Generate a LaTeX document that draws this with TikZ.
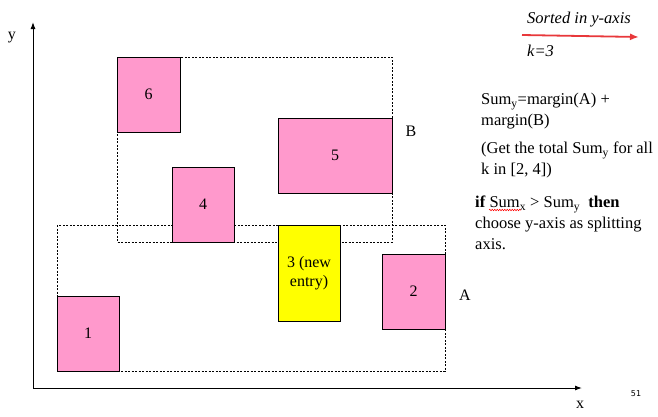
\documentclass[tikz,border=0pt]{standalone}
\usepackage{fontspec}
\setmainfont{Liberation Serif}
\newfontfamily\smallsans{DejaVu Sans}
\usetikzlibrary{arrows.meta,decorations.pathmorphing}
\definecolor{rpink}{HTML}{FF99CC}
\definecolor{ryellow}{HTML}{FFFF00}
\definecolor{rred}{HTML}{E8383B}
\begin{document}
\begin{tikzpicture}[x=1pt,y=-1pt,
  rect/.style={draw=black,line width=0.8pt,fill=rpink},
  newrect/.style={draw=black,line width=0.8pt,fill=ryellow},
  mbr/.style={draw=black,line width=0.6pt,dash pattern=on 2pt off 1.5pt},
  lbl/.style={font=\fontsize{16}{19}\selectfont,inner sep=0pt},
  txt/.style={font=\fontsize{16.5}{21}\selectfont,inner sep=0pt,anchor=north west,align=left},
  axis/.style={line width=1pt,-{Latex[length=7pt,width=5pt]}}]
\useasboundingbox (0,0) rectangle (658,416);
% axes
\coordinate (O) at (33,388);
\coordinate (Ytip) at (33,22);
\coordinate (Xtip) at (582,388);
\draw[axis] (O) -- (Ytip);
\draw[axis] (O) -- (Xtip);
\node[lbl] (ylab) at (12,38) {y};
\node[lbl] (xlab) at (580,405) {x};
\node[inner sep=0pt,font=\smallsans\fontsize{8}{10}\selectfont] (pg) at (636,394) {51};
% dashed MBRs
\draw[mbr] (117,57) rectangle (392,242);
\draw[mbr] (57,225) rectangle (445,371);
\node[lbl] (B) at (411,131) {B};
\node[lbl] (A) at (465,295) {A};
% entries
\node[rect,minimum width=63pt,minimum height=75pt,inner sep=0pt,lbl] (r6) at (148.5,94.5) {6};
\node[rect,minimum width=114pt,minimum height=75pt,inner sep=0pt,lbl] (r5) at (335,155.5) {5};
\node[rect,minimum width=62pt,minimum height=75pt,inner sep=0pt,lbl] (r4) at (203,204.5) {4};
\node[newrect,minimum width=62pt,minimum height=96pt,inner sep=0pt,lbl,align=center] (r3) at (309,273) {3 (new\\entry)};
\node[rect,minimum width=63pt,minimum height=75pt,inner sep=0pt,lbl] (r2) at (413.5,291.5) {2};
\node[rect,minimum width=62pt,minimum height=75pt,inner sep=0pt,lbl] (r1) at (88,333.5) {1};
% sorted arrow
\coordinate (s0) at (522,35);
\coordinate (s1) at (639,37);
\draw[rred,line width=1.8pt,-{Latex[length=9pt,width=7pt]}] (s0) -- (s1);
\node[lbl,font=\itshape\fontsize{16.5}{18}\selectfont,anchor=west] (sorted) at (527,20) {Sorted in y-axis};
\node[lbl,font=\itshape\fontsize{16.5}{18}\selectfont,anchor=west] (k) at (527,51) {k=3};
% explanation text
\node[txt] (t1) at (481,93) {Sum\textsubscript{y}=margin(A) +\\margin(B)};
\node[txt] (t2) at (481,142) {(Get the total Sum\textsubscript{y} for all\\k in [2, 4])};
\node[txt] (t3) at (475,196) {\textbf{if} Sum\textsubscript{x} > Sum\textsubscript{y}\ \ \textbf{then}\\choose y-axis as splitting\\axis.};
\coordinate (w0) at (489,210);
\coordinate (w1) at (521,210);
\draw[red,line width=0.5pt,decorate,decoration={snake,amplitude=0.8pt,segment length=2.5pt}] (w0) -- (w1);
\end{tikzpicture}
\end{document}
